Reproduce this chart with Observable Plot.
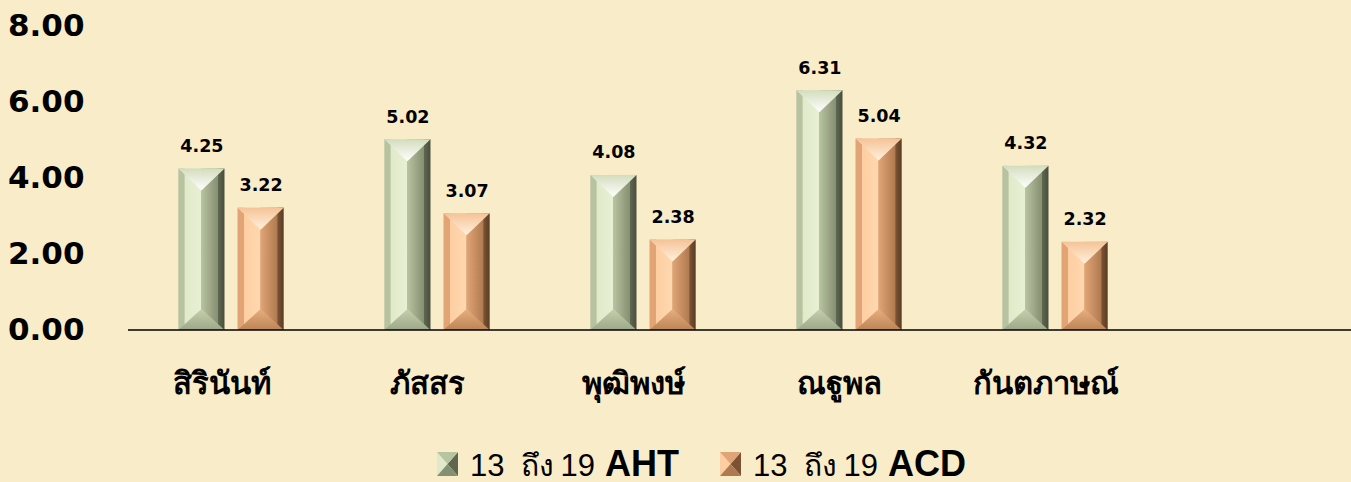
<!DOCTYPE html>
<html><head><meta charset="utf-8">
<script src="https://cdn.jsdelivr.net/npm/d3@7"></script>
<script src="https://cdn.jsdelivr.net/npm/@observablehq/plot@0.6"></script>
<style>
html,body{margin:0;padding:0;overflow:hidden;width:1351px;height:482px;background:#f9ecc9;}
#chart{position:absolute;left:0;top:0;}
#chart svg{max-width:none !important;}
#legend{position:absolute;left:437px;top:446px;display:flex;align-items:baseline;font-family:"Liberation Sans",Arial,sans-serif;color:#000;white-space:pre;}
#legend span{line-height:1;}
.item{display:flex;align-items:baseline;}
.num{font-size:31px;}
.th{font-size:30px;}
.bg{font-size:36px;font-weight:bold;}
</style></head><body>
<div id="chart"></div>
<div id="legend"></div>
<script>
const categories = ["สิรินันท์", "ภัสสร", "พุฒิพงษ์", "ณฐูพล", "กันตภาษณ์", ""];
const seriesKeys = ["AHT", "ACD"];
const legendFrom = "13";
const legendWord = "ถึง";
const legendTo = "19";
const ahtValues = [4.25, 5.02, 4.08, 6.31, 4.32];
const acdValues = [3.22, 3.07, 2.38, 5.04, 2.32];
const yTicks = [0, 2, 4, 6, 8];

const baseColors = ["#c3cfab", "#eeb584"];
const palettes = {
  AHT: {edgeL:"#b7c2a0", inL:"#e0e9c9", inL2:"#e8f0d3", inR:"#b8c3a0", inR2:"#858f71", edgeR:"#5e6650", edgeR2:"#474e3d", top1:"#d3ddbd", top2:"#ffffff", bot1:"#c6d0ae", bot2:"#9da888"},
  ACD: {edgeL:"#e2a475", inL:"#fdcea1", inL2:"#ffd8b0", inR:"#e0a576", inR2:"#b07a50", edgeR:"#7a5334", edgeR2:"#5a3c24", top1:"#f5c398", top2:"#fff1dc", bot1:"#e8ae80", bot2:"#bd8457"}
};

const rows = [];
categories.slice(0, 5).forEach((c, i) => {
  rows.push({name: c, series: "AHT", value: ahtValues[i]});
  rows.push({name: c, series: "ACD", value: acdValues[i]});
});

const NS = "http://www.w3.org/2000/svg";
function el(tag, attrs, parent) {
  const e = document.createElementNS(NS, tag);
  for (const k in attrs) e.setAttribute(k, attrs[k]);
  if (parent) parent.appendChild(e);
  return e;
}

function bevel(index, scales, values, dimensions, context, next) {
  const g = next(index, scales, values, dimensions, context);
  const rects = Array.from(g.querySelectorAll("rect"));
  for (const r of rects) {
    const x = +r.getAttribute("x"), y = +r.getAttribute("y");
    const w = +r.getAttribute("width"), h = +r.getAttribute("height");
    const fill = (r.getAttribute("fill") || "").toLowerCase();
    const key = fill === baseColors[0] ? "AHT" : "ACD";
    const grp = el("g", {});
    r.parentNode.insertBefore(grp, r);
    r.remove();
    const cx = x + w / 2;
    const t = Math.min(22, h / 2), b = Math.min(21, h / 2);
    el("rect", {x, y, width: w, height: h, fill: `url(#side-${key})`}, grp);
    el("polygon", {points: `${x},${y} ${x + w},${y} ${cx},${y + t}`, fill: `url(#top-${key})`}, grp);
    el("polygon", {points: `${x},${y + h} ${x + w},${y + h} ${cx},${y + h - b}`, fill: `url(#bot-${key})`}, grp);
  }
  return g;
}

function baseline(index, scales, values, dims) {
  const g = el("g", {});
  const y0 = scales.y(0);
  el("line", {x1: dims.marginLeft, x2: dims.width - dims.marginRight, y1: y0, y2: y0, stroke: "#000", "stroke-width": 1.5}, g);
  return g;
}

function addDefs(svg) {
  const defs = el("defs", {});
  svg.insertBefore(defs, svg.firstChild);
  for (const k of seriesKeys) {
    const p = palettes[k];
    const side = el("linearGradient", {id: `side-${k}`, x1: 0, y1: 0, x2: 1, y2: 0}, defs);
    [[0, p.edgeL], [0.13, p.edgeL], [0.14, p.inL], [0.49, p.inL2], [0.5, p.inR], [0.86, p.inR2], [0.87, p.edgeR], [1, p.edgeR2]]
      .forEach(([o, c]) => el("stop", {offset: o, "stop-color": c}, side));
    const top = el("linearGradient", {id: `top-${k}`, x1: 0, y1: 0, x2: 0, y2: 1}, defs);
    [[0, p.top1], [1, p.top2]].forEach(([o, c]) => el("stop", {offset: o, "stop-color": c}, top));
    const bot = el("linearGradient", {id: `bot-${k}`, x1: 0, y1: 0, x2: 0, y2: 1}, defs);
    [[0, p.bot1], [1, p.bot2]].forEach(([o, c]) => el("stop", {offset: o, "stop-color": c}, bot));
  }
}

const font = "'DejaVu Sans', sans-serif";
const plot = Plot.plot({
  width: 1364,
  height: 440,
  marginLeft: 128,
  marginRight: 0,
  marginTop: 26,
  marginBottom: 110,
  style: {background: "transparent", overflow: "visible", fontFamily: font, color: "#000", maxWidth: "none"},
  fx: {domain: categories, paddingInner: 0, paddingOuter: 0, round: false, label: null},
  x: {domain: seriesKeys, paddingInner: 0.22, paddingOuter: 0.85, round: false, axis: null},
  y: {domain: [0, 8], label: null},
  color: {domain: seriesKeys, range: baseColors},
  marks: [
    Plot.axisY({ticks: yTicks, tickFormat: d => d.toFixed(2), tickSize: 0, tickPadding: 44, fontSize: 31, fontWeight: "bold", label: null}),
    Plot.axisFx({anchor: "bottom", tickSize: 0, tickPadding: 41, fontSize: 31, fontWeight: "bold", dx: -10, label: null}),
    Plot.barY(rows, {fx: "name", x: "series", y: "value", fill: "series", render: bevel}),
    Plot.text(rows, {fx: "name", x: "series", y: "value", text: d => d.value.toFixed(2), lineAnchor: "bottom", dy: -17, fontSize: 17.5, fontWeight: "bold", fill: "#000"}),
    Plot.frame({facet: "super", render: baseline})
  ]
});
addDefs(plot);
plot.style.maxWidth = "none";
document.getElementById("chart").appendChild(plot);

// legend
const legend = document.getElementById("legend");
function span(cls, text, ml) {
  const s = document.createElement("span");
  s.className = cls; s.textContent = text;
  if (ml) s.style.marginLeft = ml + "px";
  return s;
}
seriesKeys.forEach((k, i) => {
  const p = palettes[k];
  const item = document.createElement("div");
  item.className = "item";
  if (i > 0) item.style.marginLeft = "41px";
  const s = el("svg", {width: 21, height: 24});
  s.style.marginRight = "12px";
  el("polygon", {points: "0,0 10.5,12 0,24", fill: p.inL}, s);
  el("polygon", {points: "21,0 10.5,12 21,24", fill: p.edgeR}, s);
  el("polygon", {points: "0,0 21,0 10.5,12", fill: p.inR}, s);
  el("polygon", {points: "0,24 21,24 10.5,12", fill: p.inR2}, s);
  item.appendChild(s);
  item.appendChild(span("num", legendFrom));
  item.appendChild(span("th", legendWord, 17));
  item.appendChild(span("num", legendTo, 6));
  item.appendChild(span("bg", k, 10));
  legend.appendChild(item);
});
</script>
</body></html>
